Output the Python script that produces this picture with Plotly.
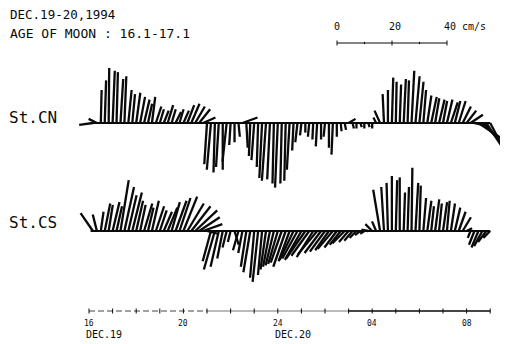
import plotly.graph_objects as go

# ---------------- data ----------------
START_HOUR = 16 + 10 / 60          # first current record, Dec.19 16:10
STEP_HOUR = 10 / 60                # sampling interval (10 min)

# St.CN current components (cm/s): u = east, v = north
cn_u = [-5, -3, 0.3, 0.5, 0.2, 0.8, 0.5, 1.0, 0.7, 1.2,
        1, 1.5, 1.8, 2, 1.5, 1.2, 2, 1.5, 1.8, 2,
        1.5, 2, 1.5, 2, 2.5, 3, 3.5, 4, 4.5, -1,
        -1.5, -0.5, -1, 0, -1.5, -0.5, 0, 0.5, 5.5, 0.5,
        -0.5, -1, -0.5, -1, -1.5, -1, -0.5, -1, -0.5, -0.5,
        -1, -0.5, -0.8, -0.5, 0, -0.5, -0.3, -0.5, 0, -0.5,
        0, -0.5, 0, 0.3, 0.5, 2.5, 0.5, 0, 0.5, 0,
        0.5, 0, -1, -2, -0.5, 0, 0.5, 0.3, 0.5, 0.8,
        0.5, 1, 1.5, 1.5, 1, 1.5, 2, 1.5, 2, 1.5,
        2, 2.5, 2, 2.5, 3, 3.5, 4.5, 5, 9, 8,
        6, 5]
cn_v = [-0.7, 1.5, 12, 15.5, 20, 19, 18.5, 16, 17, 12,
        10.5, 11, 9.5, 8.5, 7, 9.5, 6, 5, 4.5, 6.5,
        5, 4, 5, 4.5, 6.5, 7, 6, 5, 2, -15,
        -17, -18, -16, -17, -14, -8, -7, -5, 2, -9,
        -12, -13.5, -16, -20, -21, -20.5, -22, -23.5, -22, -21,
        -17, -10, -7, -4.5, -3.5, -5, -6, -8.5, -6, -5,
        -9, -11.5, -5, -3, -2.5, 1.5, -2, -2, -1.5, -2,
        -1.5, -2, 2, 4.5, 10.5, 12, 16.5, 15, 14, 16,
        15.5, 19, 17, 15, 12, 10, 9.5, 9, 8.5, 8,
        8.5, 7.5, 8, 8, 6, 4.5, 3, -1, -6, -8,
        -9, -9.5]

# St.CS current components (cm/s)
cs_u = [-4.5, -1.5, 1, 2, 1.5, 2.5, 2, 3, 3.5, 3,
        3.5, 2.5, 2, 3, 2, 2.5, 3, 2.5, 3, 3.5,
        3, 4, 4, 5, 6, 7, 8, 7.5, 7, 4,
        -3, -4, -3, -2, -1.5, -1, 1.5, -2, -1.5, -2,
        -2.5, -1.5, -2, -1.5, -2, -2.5, -3, -3.5, -4, -4.5,
        -4, -5, -5.5, -6, -7, -6.5, -6, -7, -6, -5.5,
        -5, -5.5, -4.5, -4, -4.5, -3.5, -3, -2.5, -2, -1.5,
        -2.5, -2.5, -1.5, -2.5, -1, -0.5, 0, 0.5, 0, 0.5,
        0.5, 0.3, 1, 0.5, 1, 1.5, 1, 1.5, 1, 1.5,
        1, 1.5, 2, 2.5, 3, 2, -1, -2, -2.5, -3,
        -3, -2.5]
cs_v = [6.5, 6, 7, 10, 9.5, 10.5, 9, 18.5, 16, 13,
        14, 11, 9.5, 10, 8.5, 11, 9, 7.5, 7, 8.5,
        10.5, 11, 12, 12.5, 10, 9, 7.5, 5, 2.5, -1,
        -11, -14, -13, -10, -6, -4, -5, -7, -8, -13,
        -15, -17, -18.5, -16, -14, -13, -12.5, -12, -11.5, -13,
        -11, -10.5, -10, -10.5, -10, -9, -9.5, -8.5, -8, -7.5,
        -7, -6.5, -6, -5, -4.5, -4, -3.5, -2.5, -1.5, -1,
        0.5, 2.5, 3.5, 15, 16, 17.5, 20, 18.5, 19.5, 14,
        16, 23, 17.5, 16.5, 12, 11, 9, 11.5, 10, 10.5,
        11, 10, 8.5, 7, 5, 1, -2.5, -5, -6, -5.5,
        -4, -2.5]

hour_ticks = list(range(16, 34))
hour_labels = {16: "16", 20: "20", 24: "24", 28: "04", 32: "08"}
date_labels = {16: "DEC.19", 24: "DEC.20"}
scale_values = [0, 20, 40]
scale_minor = [10, 30]
stations = [("St.CN", cn_u, cn_v), ("St.CS", cs_u, cs_v)]

# ---------------- geometry (screen scales) ----------------
PAGE_W, PAGE_H = 508, 344
OFF = 8                      # default page margin around the figure
W, H = PAGE_W - OFF, PAGE_H - OFF
PX_PER_HOUR = 23.6
PX_PER_CMS = 2.75
X_ORIGIN_PX = 89            # page pixel of hour 16
K = PX_PER_CMS / PX_PER_HOUR  # hours of x per cm/s (equal-scale vectors)

def ypx(p):
    return -p / PX_PER_CMS

def xpx(p):
    return 16 + (p - X_ORIGIN_PX) / PX_PER_HOUR

BASES = [ypx(123), ypx(231)]
AXIS_Y = ypx(311)
TICK = 0.9

fig = go.Figure()
INK = "#0a0a0a"
FONT = "DejaVu Sans Mono"

def line(xs, ys, color=INK, width=1.0, dash=None):
    fig.add_trace(go.Scatter(x=xs, y=ys, mode="lines",
                             line=dict(color=color, width=width, dash=dash),
                             hoverinfo="skip", showlegend=False))

for (name, u, v), base in zip(stations, BASES):
    times = [START_HOUR + i * STEP_HOUR for i in range(len(u))]
    xs, ys = [], []
    for t, uu, vv in zip(times, u, v):
        xs += [t, t + uu * K, None]
        ys += [base, base + vv, None]
    line(xs, ys, width=2.3)
    line([times[0] - 0.1, times[-1]], [base, base], width=2.2)

# time axis
line([16, 21], [AXIS_Y, AXIS_Y], color="#444", width=1, dash="6px,3px")
line([21, 27], [AXIS_Y, AXIS_Y], color="#777", width=1)
line([27, 33], [AXIS_Y, AXIS_Y], color=INK, width=1.5)
tx, ty = [], []
for h in hour_ticks:
    tx += [h, h, None]
    ty += [AXIS_Y - TICK, AXIS_Y + TICK, None]
line(tx, ty, width=1)

ann = []
def text(xd, yd, s, size, anchor="left"):
    ann.append(dict(x=xd, y=yd, text=s, showarrow=False, xanchor=anchor,
                    yanchor="middle", borderpad=0,
                    font=dict(family=FONT, size=size, color=INK)))

for h, lab in hour_labels.items():
    text(h, ypx(323), lab, 8, "center")
for h, lab in date_labels.items():
    text(h - 0.15, ypx(334), lab, 10)

# scale bar
sb_x0 = xpx(337)
sb_y = ypx(43)
line([sb_x0, sb_x0 + scale_values[-1] * K], [sb_y, sb_y], width=1.2)
sx, sy = [], []
for s in scale_values:
    sx += [sb_x0 + s * K, sb_x0 + s * K, None]
    sy += [sb_y - 0.9, sb_y + 0.9, None]
for s in scale_minor:
    sx += [sb_x0 + s * K, sb_x0 + s * K, None]
    sy += [sb_y - 0.4, sb_y + 0.4, None]
line(sx, sy, width=1)
for s in scale_values:
    lab = str(s) if s != scale_values[-1] else f"{s} cm/s"
    text(sb_x0 + s * K - 0.15, ypx(26), lab, 10)

# titles and station names
text(xpx(9), ypx(14.5), "DEC.19-20,1994", 12.5)
text(xpx(9), ypx(33.5), "AGE OF MOON : 16.1-17.1", 13)
for (name, _, _), py in zip(stations, [117, 222]):
    text(xpx(8), ypx(py), name, 16)

fig.update_layout(
    width=W, height=H, margin=dict(l=0, r=0, t=0, b=0),
    paper_bgcolor="white", plot_bgcolor="white",
    xaxis=dict(range=[xpx(OFF), xpx(PAGE_W)], visible=False, fixedrange=True),
    yaxis=dict(range=[ypx(PAGE_H), ypx(OFF)], visible=False, fixedrange=True),
    annotations=ann, showlegend=False,
)
fig.write_html("out.html")
